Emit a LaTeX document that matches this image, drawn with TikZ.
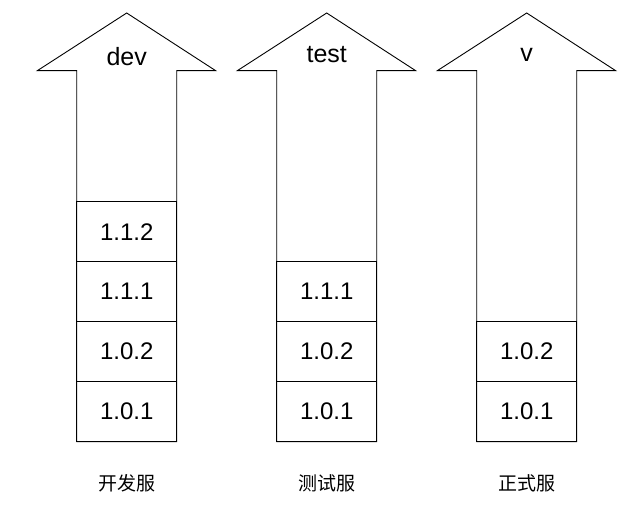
\documentclass[tikz,border=0pt]{standalone}
\usepackage{fontspec}
\setmainfont{Liberation Sans}
\newfontfamily\cjk{Noto Sans CJK SC}
\usetikzlibrary{positioning}

\begin{document}
\begin{tikzpicture}[x=1pt,y=1pt,line width=0.9pt,
        ver/.style={draw, minimum width=100pt, minimum height=60pt, inner sep=0pt, outer sep=0pt, font=\fontsize{24}{24}\selectfont},
        lbl/.style={anchor=base, font=\fontsize{25}{25}\selectfont},
        srv/.style={font=\cjk\fontsize{19}{19}\selectfont}]
        \useasboundingbox (0,0) rectangle (634,507);

        % Arrows
        \draw (126.7,494) -- (215.7,436.3) -- (176.7,436.3) -- (176.7,65.3) -- (76.7,65.3) -- (76.7,436.3) -- (37.3,436.3) -- cycle;
        \draw (326.7,494) -- (415.7,436.3) -- (376.7,436.3) -- (376.7,65.3) -- (276.7,65.3) -- (276.7,436.3) -- (237.3,436.3) -- cycle;
        \draw (526.7,494) -- (615.7,436.3) -- (576.7,436.3) -- (576.7,65.3) -- (476.7,65.3) -- (476.7,436.3) -- (437.3,436.3) -- cycle;

        % Boxes
        \node (d101) [ver] at (126.7,95.3) {1.0.1};
        \node (d102) [ver, above=0pt of d101] {1.0.2};
        \node (d111) [ver, above=0pt of d102] {1.1.1};
        \node (d112) [ver, above=0pt of d111] {1.1.2};

        \node (t101) [ver] at (326.7,95.3) {1.0.1};
        \node (t102) [ver, above=0pt of t101] {1.0.2};
        \node (t111) [ver, above=0pt of t102] {1.1.1};

        \node (v101) [ver] at (526.7,95.3) {1.0.1};
        \node (v102) [ver, above=0pt of v101] {1.0.2};

        % Labels
        \node (dev) [lbl] at (126.7,441.3) {dev};
        \node (test) [lbl] at (326.7,444.7) {test};
        \node (v) [lbl] at (526.7,445) {v};

        \node (devsrv) [srv] at (126.7,24) {开发服};
        \node (testsrv) [srv] at (326.7,24) {测试服};
        \node (vsrv) [srv] at (526.7,24) {正式服};

    \end{tikzpicture}
\end{document}
